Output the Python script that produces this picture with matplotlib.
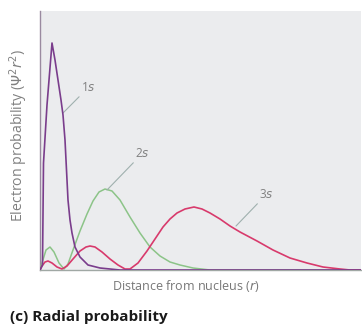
import matplotlib
matplotlib.use("Agg")
import matplotlib.pyplot as plt

# Data (r in arbitrary distance units, p in arbitrary probability units)
r_1s = [0, 0.25, 0.35, 0.7, 1.2, 1.5, 1.8, 2.1, 2.3, 2.5, 2.65, 2.8, 3.0, 3.2, 3.5, 4.0,
        4.8, 6.0, 8.0, 32.1]
p_1s = [0, 0.5, 10.7, 16.5, 22.7, 21.0, 19.0, 17.0, 15.5, 13.0, 10.0, 7.0, 5.0, 3.7, 2.3,
        1.3, 0.5, 0.2, 0, 0]

r_2s = [0, 0.2, 0.6, 1.0, 1.4, 1.9, 2.4, 2.8, 3.3, 4.0, 4.7, 5.3, 5.9, 6.5, 7.2, 8.0,
        9.0, 10.0, 11.0, 12.0, 13.0, 14.0, 15.3, 17.0, 32.1]
p_2s = [0, 0.7, 2.0, 2.3, 1.8, 0.7, 0.1, 0.6, 2.0, 3.9, 5.6, 6.9, 7.8, 8.1, 7.9, 7.0,
        5.3, 3.7, 2.3, 1.4, 0.8, 0.5, 0.2, 0, 0]

r_3s = [0, 0.2, 0.5, 0.8, 1.2, 1.7, 2.2, 2.7, 3.3, 4.0, 4.6, 5.0, 5.5, 6.2, 7.0, 7.8,
        8.5, 9.0, 9.8, 10.7, 11.5, 12.3, 13.0, 13.7, 14.5, 15.4, 16.2, 17.0, 18.0, 19.0,
        20.0, 21.7, 23.3, 25.0, 26.7, 28.3, 30.0, 31.0, 32.1]
p_3s = [0, 0.4, 0.8, 0.9, 0.7, 0.3, 0.1, 0.4, 1.1, 1.9, 2.3, 2.4, 2.3, 1.8, 1.1, 0.5,
        0.1, 0.1, 0.7, 1.9, 3.1, 4.3, 5.1, 5.7, 6.1, 6.3, 6.1, 5.7, 5.1, 4.4,
        3.8, 2.9, 2.0, 1.2, 0.7, 0.3, 0.1, 0, 0]

labels = ["1s", "2s", "3s"]

fig = plt.figure(figsize=(3.62, 3.27), dpi=100)
ax = fig.add_axes([40 / 362, 57 / 327, 321 / 362, 259 / 327])
ax.set_facecolor("#ebecee")

ax.plot(r_2s, p_2s, color="#8cc488", lw=1.1, zorder=3)
ax.plot(r_3s, p_3s, color="#d83a6c", lw=1.2, zorder=4)
ax.plot(r_1s, p_1s, color="#7a3d8c", lw=1.2, zorder=5)

ax.set_xlim(0, 32.1)
ax.set_ylim(0, 25.9)
ax.set_xticks([])
ax.set_yticks([])
for s in ["top", "right"]:
    ax.spines[s].set_visible(False)
ax.spines["left"].set_color("#9a8aa0")
ax.spines["bottom"].set_color("#a0a8a4")
ax.spines["left"].set_linewidth(1.0)
ax.spines["bottom"].set_linewidth(1.0)

fam = ["Open Sans", "DejaVu Sans"]
lead = dict(arrowstyle="-", color="#9fb0ae", lw=0.8, shrinkA=0, shrinkB=0)
ax.annotate(r"1$s$", xy=(2.3, 15.7), xytext=(4.1, 17.6), color="#808080",
            fontsize=8.5, family=fam, ha="left", va="bottom", arrowprops=lead)
ax.annotate(r"2$s$", xy=(6.7, 8.0), xytext=(9.5, 11.0), color="#808080",
            fontsize=8.5, family=fam, ha="left", va="bottom", arrowprops=lead)
ax.annotate(r"3$s$", xy=(19.6, 4.4), xytext=(21.9, 6.9), color="#808080",
            fontsize=8.5, family=fam, ha="left", va="bottom", arrowprops=lead)

fig.text(19 / 362, 1 - 135 / 327, r"Electron probability ($\Psi^2r^2$)", rotation=90,
         ha="center", va="center", color="#808080", fontsize=10.2, family=fam)
fig.text(186 / 362, 1 - 286 / 327, r"Distance from nucleus ($r$)", ha="center",
         va="center", color="#777777", fontsize=9, family=fam)
fig.text(10 / 362, 1 - 317 / 327, "(c) Radial probability", ha="left", va="center",
         color="#1a1a1a", fontsize=11, fontweight="bold", family=fam)

fig.savefig("out.png", dpi=100)
